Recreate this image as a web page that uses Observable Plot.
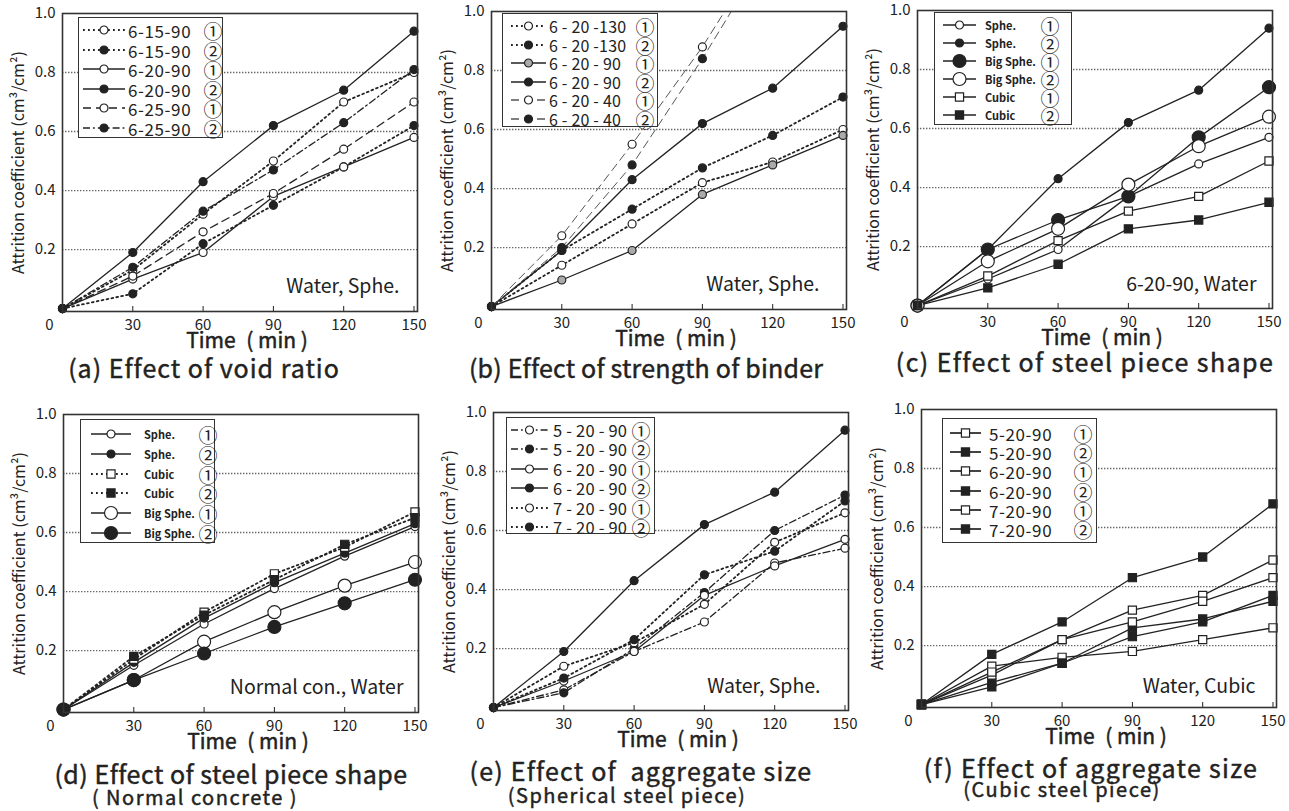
<!DOCTYPE html>
<html><head><meta charset="utf-8">
<script src="https://cdn.jsdelivr.net/npm/d3@7"></script>
<script src="https://cdn.jsdelivr.net/npm/@observablehq/plot@0.6"></script>
<style>
body{margin:0;background:#fff;font-family:"Noto Sans CJK JP","Noto Sans",sans-serif;color:#222;}
#root{position:relative;width:1289px;height:811px;overflow:hidden;background:#fff;}
.panel{position:absolute;}
.legend{position:absolute;background:#fff;border:1.6px solid #333;box-sizing:border-box;}
.lrow{position:absolute;left:0;right:0;height:0;}
.lrow svg{position:absolute;overflow:visible;}
.ltxt{position:absolute;white-space:pre;line-height:1;transform:translateY(-50%);width:max-content;}
.lcirc{position:absolute;line-height:1;transform:translate(-50%,-50%);font-size:19px;width:max-content;}
.cap{position:absolute;white-space:pre;line-height:1;transform:translate(-50%,-50%);width:max-content;font-weight:400;-webkit-text-stroke:0.45px #222;}
</style></head><body><div id="root"></div><script>
// ---------- shared axes / labels ----------
const TIME = [0, 30, 60, 90, 120, 150];
const X_TICKS = [30, 60, 90, 120, 150];
const Y_TICKS = [0.2, 0.4, 0.6, 0.8, 1.0];
const Y_GRID = [0.2, 0.4, 0.6, 0.8];
const RUN = ["①", "②", "①", "②", "①", "②"];
const Y_LABEL = "Attrition coefficient (cm³/cm²)";
const X_LABEL = "Time\u2002( min )";

// ---------- (a) Effect of void ratio ----------
const A_LABELS = ["6-15-90", "6-15-90", "6-20-90", "6-20-90", "6-25-90", "6-25-90"];
const A_VALUES = [
  [0, 0.13, 0.32, 0.50, 0.70, 0.80],
  [0, 0.05, 0.22, 0.35, 0.48, 0.62],
  [0, 0.10, 0.19, 0.38, 0.48, 0.58],
  [0, 0.19, 0.43, 0.62, 0.74, 0.94],
  [0, 0.11, 0.26, 0.39, 0.54, 0.70],
  [0, 0.14, 0.33, 0.47, 0.63, 0.81]
];
const A_NOTE = "Water, Sphe.";
const A_TITLE = "(a) Effect of void ratio";

// ---------- (b) Effect of strength of binder ----------
const B_LABELS = ["6 - 20 -130", "6 - 20 -130", "6 - 20 - 90", "6 - 20 - 90", "6 - 20 - 40", "6 - 20 - 40"];
const B_VALUES = [
  [0, 0.14, 0.28, 0.42, 0.49, 0.60],
  [0, 0.19, 0.33, 0.47, 0.58, 0.71],
  [0, 0.09, 0.19, 0.38, 0.48, 0.58],
  [0, 0.19, 0.43, 0.62, 0.74, 0.95],
  [0, 0.24, 0.55, 0.88, 1.26],
  [0, 0.20, 0.48, 0.84, 1.23]
];
const B_NOTE = "Water, Sphe.";
const B_TITLE = "(b) Effect of strength of binder";

// ---------- (c) Effect of steel piece shape ----------
const C_LABELS = ["Sphe.", "Sphe.", "Big Sphe.", "Big Sphe.", "Cubic", "Cubic"];
const C_VALUES = [
  [0, 0.09, 0.19, 0.37, 0.48, 0.57],
  [0, 0.19, 0.43, 0.62, 0.73, 0.94],
  [0, 0.19, 0.29, 0.37, 0.57, 0.74],
  [0, 0.15, 0.26, 0.41, 0.54, 0.64],
  [0, 0.10, 0.22, 0.32, 0.37, 0.49],
  [0, 0.06, 0.14, 0.26, 0.29, 0.35]
];
const C_NOTE = "6-20-90, Water";
const C_TITLE = "(c) Effect of steel piece shape";

// ---------- (d) Effect of steel piece shape (Normal concrete) ----------
const D_LABELS = ["Sphe.", "Sphe.", "Cubic", "Cubic", "Big Sphe.", "Big Sphe."];
const D_VALUES = [
  [0, 0.15, 0.29, 0.41, 0.52, 0.62],
  [0, 0.16, 0.31, 0.43, 0.53, 0.63],
  [0, 0.17, 0.33, 0.46, 0.55, 0.67],
  [0, 0.18, 0.32, 0.44, 0.56, 0.65],
  [0, 0.10, 0.23, 0.33, 0.42, 0.50],
  [0, 0.10, 0.19, 0.28, 0.36, 0.44]
];
const D_NOTE = "Normal con., Water";
const D_TITLE = "(d) Effect of steel piece shape";
const D_SUB = "( Normal concrete )";

// ---------- (e) Effect of aggregate size (Spherical) ----------
const E_LABELS = ["5 - 20 - 90", "5 - 20 - 90", "6 - 20 - 90", "6 - 20 - 90", "7 - 20 - 90", "7 - 20 - 90"];
const E_VALUES = [
  [0, 0.06, 0.19, 0.29, 0.49, 0.54],
  [0, 0.05, 0.20, 0.39, 0.60, 0.72],
  [0, 0.09, 0.19, 0.38, 0.48, 0.57],
  [0, 0.19, 0.43, 0.62, 0.73, 0.94],
  [0, 0.14, 0.22, 0.35, 0.56, 0.66],
  [0, 0.10, 0.23, 0.45, 0.53, 0.70]
];
const E_NOTE = "Water, Sphe.";
const E_TITLE = "(e) Effect of  aggregate size";
const E_SUB = "(Spherical steel piece)";

// ---------- (f) Effect of aggregate size (Cubic) ----------
const F_LABELS = ["5-20-90", "5-20-90", "6-20-90", "6-20-90", "7-20-90", "7-20-90"];
const F_VALUES = [
  [0, 0.13, 0.16, 0.18, 0.22, 0.26],
  [0, 0.075, 0.14, 0.23, 0.28, 0.37],
  [0, 0.10, 0.22, 0.32, 0.37, 0.49],
  [0, 0.06, 0.14, 0.26, 0.29, 0.35],
  [0, 0.11, 0.22, 0.28, 0.35, 0.43],
  [0, 0.17, 0.28, 0.43, 0.50, 0.68]
];
const F_NOTE = "Water, Cubic";
const F_TITLE = "(f) Effect of aggregate size";
const F_SUB = "(Cubic steel piece)";

// ---------- styles (kept apart from data) ----------
const INK = "#222";
const DOT = "1.8,3.2", DASH = "8,5", DASHDOT = "7,3,1.8,3";
const openS = {sym: "circle", r: 4, fill: "#fff"};
const fillS = {sym: "circle", r: 4, fill: INK};
const grayS = {sym: "circle", r: 4, fill: "#aaa"};
const bigO = {sym: "circle", r: 6.5, fill: "#fff"};
const bigF = {sym: "circle", r: 6.5, fill: INK};
const sqO = {sym: "square", r: 4.6, fill: "#fff"};
const sqF = {sym: "square", r: 4.6, fill: INK};
const st = (dash, m, extra = {}) => ({dash, lw: dash === DOT ? 1.8 : 1.3, ...m, ...extra});

const FONT = '"Noto Sans CJK JP","Noto Sans",sans-serif';
const ML = 62, MR = 13, MT = 12, MB = 45, FW = 355, FH = 298;

const PANELS = [
  {labels: A_LABELS, values: A_VALUES, note: A_NOTE, fl: 62, ft: 13, noteDx: -18, noteDy: -25,
   styles: [st(DOT, openS), st(DOT, fillS), st(null, openS), st(null, fillS), st(DASH, openS), st(DASHDOT, fillS)],
   leg: {l: 16, t: 4, w: 145, h: 121, r0: 12, step: 19.6, sl: 4, sw: 42, tl: 49, fs: 17, ls: 0.6, cc: 134, bold: false}},
  {labels: B_LABELS, values: B_VALUES, note: B_NOTE, fl: 491, ft: 11, noteDx: -27, noteDy: -25,
   styles: [st(DOT, openS), st(DOT, fillS), st(null, grayS), st(null, fillS), st(DASH, openS, {lc: "#555", lw: 1}), st(DASH, fillS, {lc: "#555", lw: 1})],
   leg: {l: 11, t: 2, w: 156, h: 114, r0: 12, step: 18.6, sl: 8, sw: 35, tl: 46, fs: 16, ls: 0.2, cc: 142, bold: false}},
  {labels: C_LABELS, values: C_VALUES, note: C_NOTE, fl: 917, ft: 10, noteDx: -16, noteDy: -24,
   styles: [st(null, openS), st(null, fillS), st(null, bigF), st(null, bigO), st(null, sqO), st(null, sqF)],
   leg: {l: 17, t: 2, w: 138, h: 113, r0: 12, step: 18, sl: 8, sw: 33, tl: 50, fs: 11, ls: 0, cc: 115, bold: true}},
  {labels: D_LABELS, values: D_VALUES, note: D_NOTE, fl: 63, ft: 414, noteDx: -15, noteDy: -25,
   styles: [st(null, openS), st(null, fillS), st(DOT, sqO), st(DOT, sqF), st(null, bigO), st(null, bigF)],
   leg: {l: 17, t: 5, w: 135, h: 124, r0: 14, step: 19.8, sl: 10, sw: 40, tl: 63, fs: 11, ls: 0, cc: 127, bold: true}},
  {labels: E_LABELS, values: E_VALUES, note: E_NOTE, fl: 493, ft: 412, noteDx: -28, noteDy: -24,
   styles: [st(DASHDOT, openS), st(DASHDOT, fillS), st(null, openS), st(null, fillS), st(DOT, openS), st(DOT, fillS)],
   leg: {l: 13, t: 5, w: 149, h: 117, r0: 12, step: 19.4, sl: 4, sw: 37, tl: 46, fs: 16.5, ls: 0.2, cc: 134, bold: false}},
  {labels: F_LABELS, values: F_VALUES, note: F_NOTE, fl: 921, ft: 409, noteDx: -21, noteDy: -21,
   styles: [st(null, sqO), st(null, sqF), st(null, sqO), st(null, sqF), st(null, sqO), st(null, sqF)],
   leg: {l: 21, t: 9, w: 155, h: 125, r0: 14, step: 19.2, sl: 7, sw: 31, tl: 46, fs: 17, ls: 0.6, cc: 140, bold: false}}
];

const CAPTIONS = [
  {text: A_TITLE, cx: 204, cy: 367, fs: 25, ls: 1.0},
  {text: B_TITLE, cx: 646, cy: 367, fs: 25, ls: 0.2},
  {text: C_TITLE, cx: 1085, cy: 361, fs: 25, ls: 1.4},
  {text: D_TITLE, cx: 231, cy: 773, fs: 25, ls: 0.5},
  {text: D_SUB, cx: 195, cy: 797, fs: 20, ls: 1.5},
  {text: E_TITLE, cx: 641, cy: 770, fs: 25, ls: 1.2},
  {text: E_SUB, cx: 627, cy: 795, fs: 20, ls: 1.5},
  {text: F_TITLE, cx: 1091, cy: 767, fs: 25, ls: 1.3},
  {text: F_SUB, cx: 1062, cy: 789, fs: 20, ls: 1.5}
];

const root = document.getElementById("root");

function makePlot(p) {
  const rows = p.values.flatMap((vals, i) => vals.map((v, j) => ({t: TIME[j], v, i})));
  const marks = [
    Plot.gridY(Y_GRID, {stroke: "#666", strokeOpacity: 1, strokeDasharray: "1.4,1.6", strokeWidth: 1.3}),
    Plot.axisY(Y_TICKS, {tickSize: 0, tickPadding: 7, tickFormat: d3.format(".1f"), fontSize: 15, label: null}),
    Plot.axisX(X_TICKS, {tickSize: -5, tickPadding: 13, fontSize: 15, label: null}),
    Plot.axisX([0], {tickSize: 0, tickPadding: 8, dx: -13, fontSize: 15, label: null}),
    Plot.text([X_LABEL], {text: d => d, frameAnchor: "bottom", lineAnchor: "middle", textAnchor: "middle", dy: 30, dx: 7, fontSize: 21, fill: INK, stroke: INK, strokeWidth: 0.5}),
    Plot.text([Y_LABEL], {text: d => d, frameAnchor: "left", textAnchor: "middle", lineAnchor: "middle", dx: -44, rotate: -90, fontSize: 16, fill: INK}),
    Plot.text([p.note], {text: d => d, frameAnchor: "bottom-right", textAnchor: "end", lineAnchor: "middle", dx: p.noteDx, dy: p.noteDy, fontSize: 19.5, fill: INK})
  ];
  p.styles.forEach((s, i) => {
    marks.push(Plot.line(rows.filter(r => r.i === i), {x: "t", y: "v", stroke: s.lc || INK, strokeWidth: s.lw, strokeDasharray: s.dash, clip: true}));
  });
  p.styles.forEach((s, i) => {
    marks.push(Plot.dot(rows.filter(r => r.i === i && r.v <= 1), {x: "t", y: "v", r: s.r, symbol: s.sym, fill: s.fill, stroke: INK, strokeWidth: 1.2}));
  });
  marks.push(Plot.frame({stroke: "#333", strokeWidth: 1.6}));
  return Plot.plot({
    width: ML + FW + MR, height: MT + FH + MB,
    marginLeft: ML, marginRight: MR, marginTop: MT, marginBottom: MB,
    x: {domain: [0, 151.5]}, y: {domain: [-0.01, 1.0]},
    style: {fontFamily: FONT, color: INK, background: "transparent", overflow: "visible"},
    marks
  });
}

function makeLegend(p) {
  const L = p.leg;
  const box = document.createElement("div");
  box.className = "legend";
  Object.assign(box.style, {left: (ML + L.l) + "px", top: (MT + L.t) + "px", width: L.w + "px", height: L.h + "px"});
  p.labels.forEach((lab, i) => {
    const s = p.styles[i];
    const row = document.createElement("div");
    row.className = "lrow";
    row.style.top = (L.r0 + i * L.step) + "px";
    const svg = d3.create("svg").attr("width", L.sw).attr("height", 14)
      .style("left", L.sl + "px").style("top", "-7px");
    svg.append("line").attr("x1", 0).attr("x2", L.sw).attr("y1", 7).attr("y2", 7)
      .attr("stroke", s.lc || INK).attr("stroke-width", s.lw + 0.4).attr("stroke-dasharray", s.dash);
    const sym = d3.symbol(s.sym === "square" ? d3.symbolSquare : d3.symbolCircle, Math.PI * s.r * s.r);
    svg.append("path").attr("d", sym()).attr("transform", `translate(${L.sw / 2},7)`)
      .attr("fill", s.fill).attr("stroke", INK).attr("stroke-width", 1.2);
    row.appendChild(svg.node());
    const t = document.createElement("span");
    t.className = "ltxt";
    t.textContent = lab;
    Object.assign(t.style, {left: L.tl + "px", fontSize: L.fs + "px", letterSpacing: L.ls + "px", fontWeight: L.bold ? "bold" : "normal"});
    row.appendChild(t);
    const c = document.createElement("span");
    c.className = "lcirc";
    c.textContent = RUN[i];
    c.style.left = L.cc + "px";
    row.appendChild(c);
    box.appendChild(row);
  });
  return box;
}

PANELS.forEach(p => {
  const div = document.createElement("div");
  div.className = "panel";
  div.style.left = (p.fl - ML) + "px";
  div.style.top = (p.ft - MT) + "px";
  div.appendChild(makePlot(p));
  div.appendChild(makeLegend(p));
  root.appendChild(div);
});

CAPTIONS.forEach(c => {
  const d = document.createElement("div");
  d.className = "cap";
  d.textContent = c.text;
  Object.assign(d.style, {left: c.cx + "px", top: c.cy + "px", fontSize: c.fs + "px", letterSpacing: c.ls + "px"});
  root.appendChild(d);
});
</script></body></html>
